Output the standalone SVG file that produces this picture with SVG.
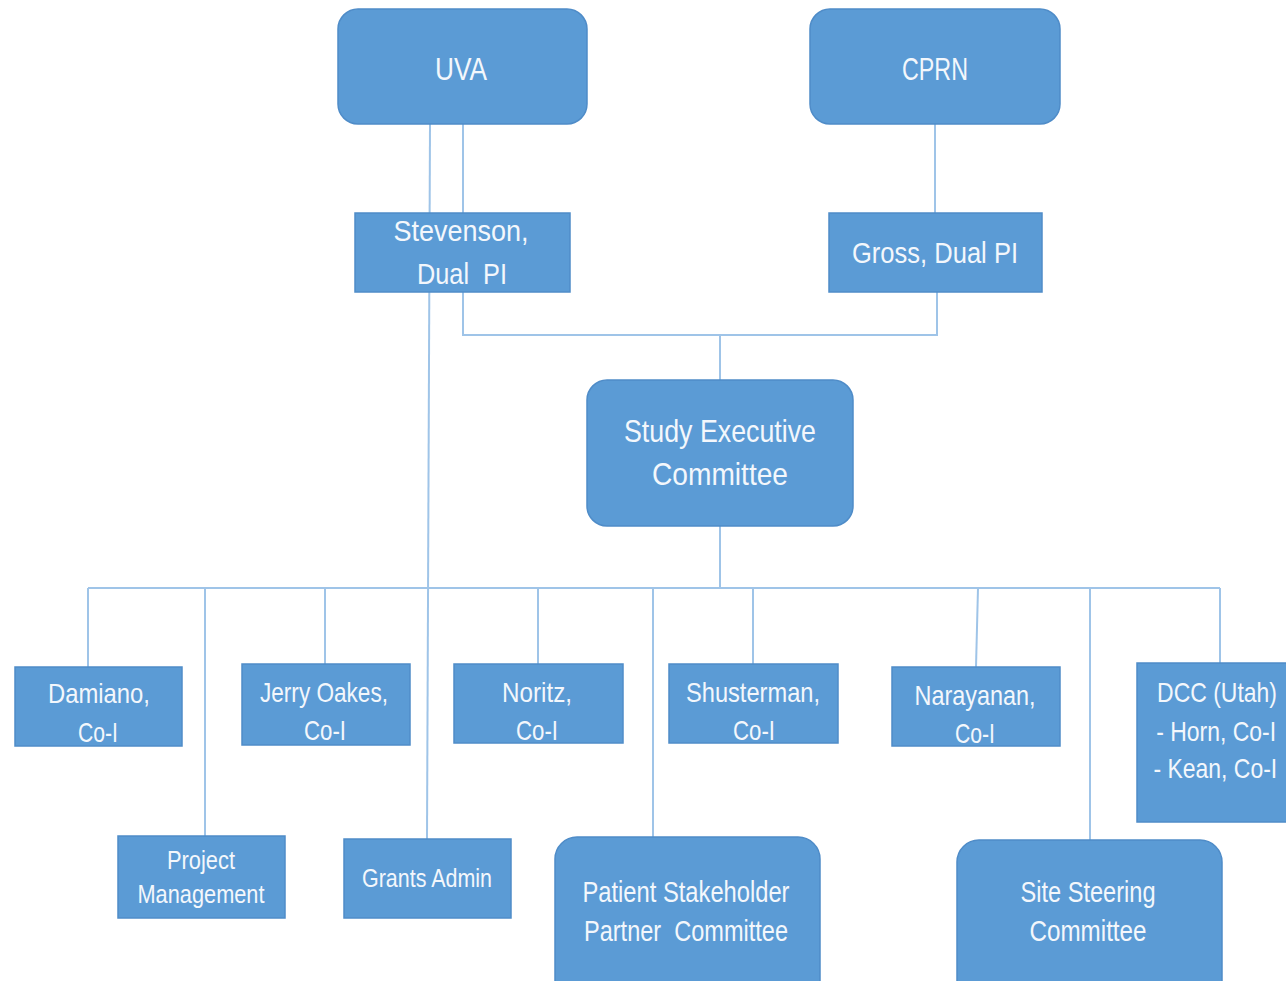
<svg xmlns="http://www.w3.org/2000/svg" width="1286" height="981" viewBox="0 0 1286 981">
<style>
.box{fill:#5B9BD5;stroke:#4F8CC8;stroke-width:1.5}
.t{fill:#F3F7FC;font-family:"Liberation Sans",Arial,sans-serif;text-anchor:middle}
.s32{font-size:32px}.s30{font-size:30px}.s28{font-size:28px}.s26{font-size:26px}
.c{fill:none;stroke:#9FC4E8;stroke-width:2}
</style>
<rect width="1286" height="981" fill="#FFFFFF"/>
<g id="connectors">
<path class="c" d="M430,124 L427,839"/>
<path class="c" d="M463,124 V213"/>
<path class="c" d="M935,124 V213"/>
<path class="c" d="M463,292 V335 H937 V292"/>
<path class="c" d="M720,335 V380"/>
<path class="c" d="M720,526 V588"/>
<path class="c" d="M88,588 H1220"/>
<path class="c" d="M88,588 V667"/>
<path class="c" d="M205,588 V836"/>
<path class="c" d="M325,588 V664"/>
<path class="c" d="M538,588 V664"/>
<path class="c" d="M653,588 V837"/>
<path class="c" d="M753,588 V664"/>
<path class="c" d="M978,588 L976,667"/>
<path class="c" d="M1090,588 V840"/>
<path class="c" d="M1220,588 V663"/>
</g>
<g id="uva"><rect class="box" x="338" y="9" width="249" height="115" rx="20"/><text class="t s32" x="461" y="80" textLength="52" lengthAdjust="spacingAndGlyphs">UVA</text></g>
<g id="cprn"><rect class="box" x="810" y="9" width="250" height="115" rx="20"/><text class="t s32" x="935" y="80" textLength="66" lengthAdjust="spacingAndGlyphs">CPRN</text></g>
<g id="stevenson"><rect class="box" x="355" y="213" width="215" height="79"/><text class="t s30" x="461" y="241" textLength="135" lengthAdjust="spacingAndGlyphs">Stevenson,</text><text class="t s30" x="462" y="284" xml:space="preserve" textLength="90" lengthAdjust="spacingAndGlyphs">Dual  PI</text></g>
<g id="gross"><rect class="box" x="829" y="213" width="213" height="79"/><text class="t s30" x="935" y="263" textLength="166" lengthAdjust="spacingAndGlyphs">Gross, Dual PI</text></g>
<g id="exec"><rect class="box" x="587" y="380" width="266" height="146" rx="20"/><text class="t s32" x="720" y="442" textLength="192" lengthAdjust="spacingAndGlyphs">Study Executive</text><text class="t s32" x="720" y="485" textLength="136" lengthAdjust="spacingAndGlyphs">Committee</text></g>
<g id="damiano"><rect class="box" x="15" y="667" width="167" height="79"/><text class="t s28" x="99" y="703" textLength="102" lengthAdjust="spacingAndGlyphs">Damiano,</text><text class="t s28" x="98" y="742" textLength="40" lengthAdjust="spacingAndGlyphs">Co-I</text></g>
<g id="oakes"><rect class="box" x="242" y="664" width="168" height="81"/><text class="t s28" x="324" y="702" textLength="128" lengthAdjust="spacingAndGlyphs">Jerry Oakes,</text><text class="t s28" x="325" y="740" textLength="42" lengthAdjust="spacingAndGlyphs">Co-I</text></g>
<g id="noritz"><rect class="box" x="454" y="664" width="169" height="79"/><text class="t s28" x="537" y="702" textLength="70" lengthAdjust="spacingAndGlyphs">Noritz,</text><text class="t s28" x="537" y="740" textLength="42" lengthAdjust="spacingAndGlyphs">Co-I</text></g>
<g id="shusterman"><rect class="box" x="669" y="664" width="169" height="79"/><text class="t s28" x="753" y="702" textLength="134" lengthAdjust="spacingAndGlyphs">Shusterman,</text><text class="t s28" x="754" y="740" textLength="42" lengthAdjust="spacingAndGlyphs">Co-I</text></g>
<g id="narayanan"><rect class="box" x="892" y="667" width="168" height="79"/><text class="t s28" x="975" y="705" textLength="121" lengthAdjust="spacingAndGlyphs">Narayanan,</text><text class="t s28" x="975" y="743" textLength="40" lengthAdjust="spacingAndGlyphs">Co-I</text></g>
<g id="dcc"><rect class="box" x="1137" y="663" width="152" height="159"/><g transform="translate(1217,0) scale(0.82,1)"><text class="t s28" x="0" y="702">DCC (Utah)</text><text class="t s28" x="-1" y="741">- Horn, Co-I</text><text class="t s28" x="-2" y="778">- Kean, Co-I</text></g></g>
<g id="pm"><rect class="box" x="118" y="836" width="167" height="82"/><text class="t s26" x="201" y="869" textLength="68" lengthAdjust="spacingAndGlyphs">Project</text><text class="t s26" x="201" y="903" textLength="127" lengthAdjust="spacingAndGlyphs">Management</text></g>
<g id="grants"><rect class="box" x="344" y="839" width="167" height="79"/><text class="t s26" x="427" y="887" textLength="130" lengthAdjust="spacingAndGlyphs">Grants Admin</text></g>
<g id="patient"><rect class="box" x="555" y="837" width="265" height="170" rx="22"/><text class="t s30" x="686" y="902" textLength="207" lengthAdjust="spacingAndGlyphs">Patient Stakeholder</text><text class="t s30" x="686" y="941" xml:space="preserve" textLength="204" lengthAdjust="spacingAndGlyphs">Partner  Committee</text></g>
<g id="site"><rect class="box" x="957" y="840" width="265" height="170" rx="22"/><text class="t s30" x="1088" y="902" textLength="135" lengthAdjust="spacingAndGlyphs">Site Steering</text><text class="t s30" x="1088" y="941" textLength="117" lengthAdjust="spacingAndGlyphs">Committee</text></g>
</svg>
